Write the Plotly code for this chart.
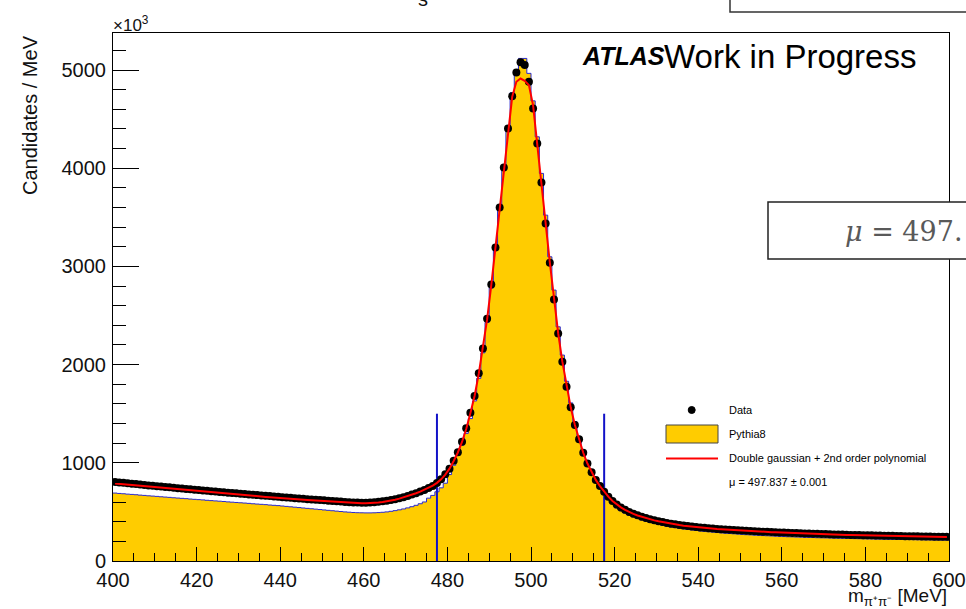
import plotly.graph_objects as go

# ---------------- data (1 MeV bins, low edges 400..599) ----------------
bin_low = list(range(400, 600))

data_vals = [
    805, 800, 796, 791, 787, 783, 778, 774, 770, 766,
    762, 758, 754, 750, 746, 742, 738, 734, 730, 726,
    722, 718, 715, 711, 707, 703, 700, 696, 692, 689,
    685, 682, 678, 675, 671, 668, 664, 661, 657, 654,
    650, 647, 643, 640, 637, 633, 630, 627, 624, 621,
    618, 614, 611, 608, 605, 602, 599, 597, 595, 594,
    594, 596, 599, 603, 608, 614, 621, 629, 639, 650,
    662, 676, 691, 707, 724, 743, 765, 795, 832, 883,
    940, 1021, 1107, 1215, 1351, 1510, 1680, 1911, 2165, 2467,
    2817, 3193, 3600, 4008, 4405, 4734, 4975, 5080, 5050, 4880,
    4608, 4252, 3855, 3438, 3037, 2664, 2318, 2029, 1774, 1565,
    1384, 1239, 1102, 994, 903, 825, 764, 705, 654, 610,
    575, 546, 521, 499, 481, 465, 451, 438, 426, 415,
    405, 396, 388, 380, 373, 367, 361, 356, 351, 346,
    342, 338, 334, 330, 327, 324, 321, 318, 315, 312,
    310, 307, 305, 303, 301, 299, 297, 295, 293, 291,
    289, 288, 286, 284, 283, 281, 280, 278, 277, 275,
    274, 273, 271, 270, 269, 267, 266, 265, 264, 263,
    262, 261, 260, 259, 258, 257, 256, 255, 254, 253,
    252, 252, 251, 250, 249, 249, 248, 247, 247, 246,
]

fit_vals = [
    790, 786, 782, 777, 773, 769, 765, 761, 757, 753,
    749, 745, 741, 737, 733, 729, 725, 721, 718, 714,
    710, 706, 703, 699, 695, 692, 688, 684, 681, 677,
    674, 670, 667, 663, 660, 656, 653, 650, 646, 643,
    640, 637, 633, 630, 627, 624, 621, 618, 615, 612,
    609, 606, 603, 601, 598, 596, 594, 592, 590, 589,
    589, 590, 592, 596, 601, 607, 615, 624, 635, 647,
    660, 675, 690, 707, 725, 745, 768, 796, 832, 880,
    940, 1018, 1105, 1212, 1345, 1505, 1680, 1905, 2160, 2460,
    2810, 3190, 3595, 4000, 4390, 4727, 4880, 4913, 4890, 4846,
    4640, 4260, 3860, 3440, 3040, 2665, 2320, 2030, 1775, 1565,
    1385, 1238, 1102, 993, 903, 826, 763, 706, 655, 611,
    575, 546, 521, 499, 480, 464, 450, 437, 425, 414,
    404, 395, 387, 379, 372, 366, 360, 355, 350, 345,
    341, 337, 333, 329, 326, 323, 320, 317, 314, 311,
    309, 306, 304, 302, 300, 298, 296, 294, 292, 290,
    288, 287, 285, 283, 282, 280, 279, 277, 276, 274,
    273, 272, 270, 269, 268, 266, 265, 264, 263, 262,
    261, 260, 259, 258, 257, 256, 255, 254, 253, 252,
    251, 251, 250, 249, 248, 248, 247, 246, 246, 245,
]

mc_vals = [
    692, 688, 685, 681, 678, 675, 671, 668, 664, 661,
    658, 654, 651, 648, 644, 641, 638, 635, 631, 628,
    625, 622, 618, 615, 612, 609, 606, 602, 599, 596,
    593, 590, 587, 583, 580, 577, 574, 570, 567, 564,
    560, 556, 552, 548, 544, 540, 536, 532, 528, 524,
    520, 516, 512, 508, 504, 500, 497, 494, 492, 491,
    490, 490, 491, 493, 496, 500, 506, 513, 521, 530,
    541, 553, 567, 583, 601, 640, 668, 705, 745, 792,
    880, 975, 1075, 1180, 1300, 1450, 1630, 1860, 2120, 2430,
    2780, 3170, 3590, 4010, 4420, 4770, 4966, 5118, 5118, 4966,
    4686, 4320, 3947, 3522, 3098, 2759, 2385, 2097, 1830, 1610,
    1420, 1265, 1125, 1010, 915, 835, 770, 710, 655, 605,
    540, 512, 488, 467, 449, 433, 419, 406, 394, 383,
    373, 364, 355, 347, 340, 333, 327, 321, 316, 311,
    306, 302, 298, 294, 290, 286, 283, 280, 277, 274,
    271, 268, 266, 263, 261, 259, 257, 255, 253, 251,
    249, 247, 246, 244, 243, 241, 240, 239, 237, 236,
    235, 234, 233, 232, 231, 230, 229, 228, 227, 226,
    225, 224, 223, 223, 222, 221, 220, 220, 219, 218,
    218, 217, 216, 216, 215, 215, 214, 214, 213, 213,
]

window_edges = [477.5, 517.5]
window_height = 1500
x_tick_vals = [400, 420, 440, 460, 480, 500, 520, 540, 560, 580, 600]
y_tick_vals = [0, 1000, 2000, 3000, 4000, 5000]
y_tick_text = ["0", "1000", "2000", "3000", "4000", "5000"]

legend_labels = ["Data", "Pythia8", "Double gaussian + 2nd order polynomial",
                 "\u03bc = 497.837 \u00b1 0.001"]

# ---------------- layout geometry (pixels) ----------------
W, H = 966, 609
L, R, T, B = 113, 949, 33, 561
PW, PH = R - L, B - T
FONT = "Liberation Sans, Arial, Helvetica, sans-serif"


def px(x):
    return (x - L) / PW


def py(y):
    return (B - y) / PH


centers = [b + 0.5 for b in bin_low]
edges = bin_low + [bin_low[-1] + 1]

fig = go.Figure()

# Pythia8 histogram (filled step)
fig.add_trace(go.Scatter(
    x=edges, y=mc_vals + [mc_vals[-1]], mode="lines",
    line=dict(shape="hv", color="#2a2ad0", width=1),
    fill="tozeroy", fillcolor="#FFCC00", hoverinfo="skip"))

# signal window lines
for w in window_edges:
    fig.add_trace(go.Scatter(
        x=[w, w], y=[0, window_height], mode="lines",
        line=dict(color="#1212c8", width=2), hoverinfo="skip"))

# data points
fig.add_trace(go.Scatter(
    x=centers, y=data_vals, mode="markers",
    marker=dict(color="black", size=8, symbol="circle")))

# fit
fig.add_trace(go.Scatter(
    x=centers, y=fit_vals, mode="lines",
    line=dict(color="#ff0000", width=2)))

axis_common = dict(showline=True, linecolor="black", linewidth=1, mirror=True,
                   showgrid=False, zeroline=False, ticks="inside", automargin=False,
                   tickcolor="black", tickfont=dict(family=FONT, size=20, color="#111"))

fig.update_xaxes(range=[400, 600], tickvals=x_tick_vals, ticklen=14, tickwidth=1,
                 minor=dict(dtick=5, ticklen=8, ticks="inside", tickcolor="black"),
                 ticklabelstandoff=1, **axis_common)
fig.update_yaxes(range=[0, 5377], tickvals=y_tick_vals, ticktext=y_tick_text,
                 ticklen=26, tickwidth=1,
                 minor=dict(dtick=200, ticklen=13, ticks="inside", tickcolor="black"),
                 ticklabelstandoff=2, **axis_common)

annotations = []
shapes = []

# y axis title
annotations.append(dict(x=px(30), y=py(115), xref="paper", yref="paper",
                        text="Candidates / MeV", textangle=-90, showarrow=False,
                        font=dict(family=FONT, size=20, color="#111"),
                        xanchor="center", yanchor="middle"))
# x axis title
annotations.append(dict(x=px(948), y=py(597), xref="paper", yref="paper",
                        text="m<sub>\u03c0\u207a\u03c0\u207b</sub> [MeV]", showarrow=False,
                        font=dict(family=FONT, size=19, color="#111"),
                        xanchor="right", yanchor="middle", borderpad=0))
# x10^3
annotations.append(dict(x=px(111), y=py(24), xref="paper", yref="paper",
                        text="\u00d710<sup>3</sup>", showarrow=False,
                        font=dict(family=FONT, size=17, color="#111"),
                        xanchor="left", yanchor="middle"))
# cut title fragment
annotations.append(dict(x=px(423), y=py(12), xref="paper", yref="paper",
                        text="s", showarrow=False,
                        font=dict(family=FONT, size=20, color="#111"),
                        xanchor="center", yanchor="bottom"))
# ATLAS label
annotations.append(dict(x=px(580), y=py(56), xref="paper", yref="paper",
                        text="<b><i>ATLAS</i></b>", showarrow=False,
                        font=dict(family=FONT, size=25, color="black"),
                        xanchor="left", yanchor="middle"))
annotations.append(dict(x=px(662), y=py(56), xref="paper", yref="paper",
                        text="Work in Progress", showarrow=False,
                        font=dict(family=FONT, size=33, color="black"),
                        xanchor="left", yanchor="middle"))

# legend (manual)
leg_y = [410, 434, 458, 482]
for lab, yy in zip(legend_labels, leg_y):
    annotations.append(dict(x=px(727), y=py(yy), xref="paper", yref="paper",
                            text=lab, showarrow=False,
                            font=dict(family=FONT, size=11, color="black"),
                            xanchor="left", yanchor="middle"))
shapes.append(dict(type="circle", xref="paper", yref="paper",
                   x0=px(688.2), x1=px(695.2), y0=py(413.5), y1=py(406.5),
                   fillcolor="black", line=dict(color="black", width=1)))
shapes.append(dict(type="rect", xref="paper", yref="paper",
                   x0=px(666), x1=px(718), y0=py(443), y1=py(425),
                   fillcolor="#FFCC00", line=dict(color="#444", width=1)))
shapes.append(dict(type="line", xref="paper", yref="paper",
                   x0=px(666), x1=px(718), y0=py(458.5), y1=py(458.5),
                   line=dict(color="#ff0000", width=2)))

# mu overlay box
shapes.append(dict(type="rect", xref="paper", yref="paper", layer="above",
                   x0=px(768), x1=px(990), y0=py(259), y1=py(202),
                   fillcolor="white", line=dict(color="#222", width=1.5)))
annotations.append(dict(x=px(843), y=py(231), xref="paper", yref="paper",
                        text="<i>\u03bc</i> = 497.", showarrow=False,
                        font=dict(family="DejaVu Serif, serif", size=27, color="#595959"),
                        xanchor="left", yanchor="middle"))

# top-right overlay box
shapes.append(dict(type="rect", xref="paper", yref="paper", layer="above",
                   x0=px(730), x1=px(990), y0=py(12), y1=py(-20),
                   fillcolor="white", line=dict(color="#333", width=1.5)))

fig.update_layout(
    width=W, height=H,
    margin=dict(l=L, r=W - R, t=T, b=H - B, pad=0, autoexpand=False),
    paper_bgcolor="white", plot_bgcolor="white",
    showlegend=False,
    annotations=annotations, shapes=shapes,
    font=dict(family=FONT),
)

fig.write_html("out.html")
